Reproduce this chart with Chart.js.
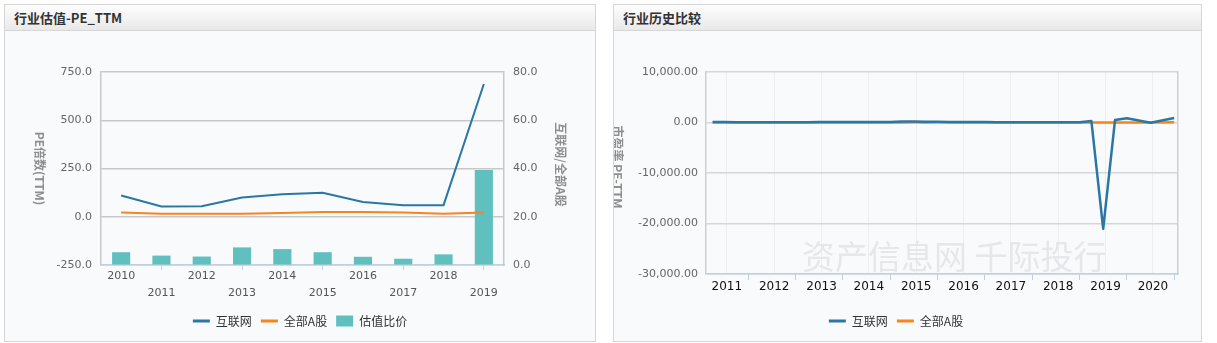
<!DOCTYPE html>
<html>
<head>
<meta charset="utf-8">
<script src="https://cdn.jsdelivr.net/npm/chart.js@4.4.1/dist/chart.umd.min.js"></script>
<style>
body { margin:0; background:#fff; font-family:"Noto Sans CJK SC", sans-serif; }
.panel { position:absolute; top:4px; height:338px; border:1px solid #d6d6d6; background:#f9fafc; box-sizing:border-box; }
.panel .hd { height:25px; line-height:25px; padding-left:9px; font-size:13px; font-weight:bold; color:#333;
  background:linear-gradient(#fdfdfd,#e9e9e9); border-bottom:1px solid #d6d6d6; }
.panel canvas { display:block; }
#p1 { left:4px; width:592px; }
#p2 { left:613px; width:589px; }
</style>
</head>
<body>
<div class="panel" id="p1">
  <div class="hd">行业估值-PE_TTM</div>
  <canvas id="peChart" width="590" height="310"></canvas>
</div>
<div class="panel" id="p2">
  <div class="hd">行业历史比较</div>
  <canvas id="histChart" width="587" height="310"></canvas>
</div>
<script>
// left chart: annual PE
const years = ['2010','2011','2012','2013','2014','2015','2016','2017','2018','2019'];
const peInternet = [110, 53, 55, 100, 117, 124, 76, 60, 60, 688];
const peAllA = [22, 15, 16, 16, 19, 25, 24, 22, 16, 22];
const valRatio = [5.3, 3.9, 3.5, 7.3, 6.6, 5.3, 3.4, 2.6, 4.4, 39.4];
const peTicks = [-250, 0, 250, 500, 750];
const ratioTicks = [0, 20, 40, 60, 80];

// right chart: quarterly history
const histYears = ['2011','2012','2013','2014','2015','2016','2017','2018','2019','2020'];
const histDates = [2011.25,2011.5,2011.75,2012,2012.25,2012.5,2012.75,2013,2013.25,2013.5,2013.75,2014,
  2014.25,2014.5,2014.75,2015,2015.25,2015.5,2015.75,2016,2016.25,2016.5,2016.75,2017,
  2017.25,2017.5,2017.75,2018,2018.25,2018.5,2018.75,2019,2019.25,2019.5,2019.75,2020,2020.5,2021];
const histInternet = [95,82,64,53, 58,60,52,55, 72,88,104,100, 108,121,110,117,
  175,210,140,124, 110,98,88,76, 72,68,63,60, 62,57,50,60, 300,-21050,500,850,-50,900];
const histAllA = [18,17,16,15, 15,15,14,16, 16,15,14,16, 15,16,17,19,
  22,27,21,25, 22,23,24,24, 23,22,22,22, 18,17,15,16, 19,19,18,22,24,26];
const histTicks = [-30000, -20000, -10000, 0, 10000];

const BLUE = '#2a77a3', ORANGE = '#f7841f', TEAL = '#60bfbf';
const tickFont = {family:'"DejaVu Sans"', size:11};

Chart.defaults.font.family = '"Noto Sans CJK SC", sans-serif';

// vertical axis titles, read top to bottom
const axisTitles = {
  id: 'axisTitles',
  afterDraw(chart, args, opts) {
    const ctx = chart.ctx, area = chart.chartArea;
    (opts.items || []).forEach(t => {
      ctx.save();
      const x = t.side === 'left' ? area.left - t.dx : area.right + t.dx;
      ctx.translate(x, (area.top + area.bottom) / 2 + (t.dy || 0));
      ctx.rotate(Math.PI / 2);
      ctx.font = 'bold 12px "Noto Sans CJK SC"';
      ctx.fillStyle = '#8e8e8e';
      ctx.textAlign = 'center';
      ctx.textBaseline = 'middle';
      ctx.fillText(t.text, 0, 0);
      ctx.restore();
    });
  }
};

const watermark = {
  id: 'watermark',
  beforeDatasetsDraw(chart, args, opts) {
    if (!opts.text) return;
    const ctx = chart.ctx, area = chart.chartArea;
    ctx.save();
    ctx.font = '33px "Noto Sans CJK SC"';
    ctx.fillStyle = '#e5e8eb';
    ctx.textBaseline = 'alphabetic';
    ctx.fillText(opts.text, area.left + 96, area.bottom - 5);
    ctx.restore();
  }
};

function legendLabels(chart) {
  return Chart.defaults.plugins.legend.labels.generateLabels(chart).map(item => {
    item.lineWidth = item.pointStyle === 'line' ? 3 : 0;
    return item;
  });
}

const legendOpts = {
  position: 'bottom',
  labels: {
    usePointStyle: true, pointStyleWidth: 17, boxHeight: 11, padding: 9,
    color: '#333', font: {size: 12}, generateLabels: legendLabels
  }
};

new Chart(document.getElementById('peChart'), {
  type: 'bar',
  data: {
    labels: years.map((y, i) => i % 2 ? ['', y] : [y]),
    datasets: [
      {type:'line', label:'互联网', data:peInternet, yAxisID:'y', borderColor:BLUE, backgroundColor:BLUE,
        borderWidth:2, pointRadius:0, pointStyle:'line', tension:0},
      {type:'line', label:'全部A股', data:peAllA, yAxisID:'y', borderColor:ORANGE, backgroundColor:ORANGE,
        borderWidth:2, pointRadius:0, pointStyle:'line', tension:0},
      {type:'bar', label:'估值比价', data:valRatio, yAxisID:'y1', backgroundColor:TEAL, borderWidth:0,
        barPercentage:0.45, categoryPercentage:1, pointStyle:'rect'}
    ]
  },
  options: {
    responsive: false,
    animation: false,
    layout: {padding: {top:41, left:0, right:0, bottom:4}},
    plugins: {
      legend: legendOpts,
      tooltip: {enabled:false},
      axisTitles: {items: [
        {side:'left', dx:61, text:'PE倍数(TTM)'},
        {side:'right', dx:57, dy:-4, text:'互联网/全部A股'}
      ]}
    },
    scales: {
      x: {
        grid: {drawOnChartArea:false, offset:false, tickLength:5, lineWidth:1,
          tickColor: c => c.index % 2 ? '#c0d0e0' : 'rgba(0,0,0,0)'},
        border: {color:'#c0d0e0', width:1.5},
        ticks: {color:'#555', font:{family:'"DejaVu Sans"', size:11, lineHeight:1.5}, padding:-2,
          autoSkip:false, maxRotation:0},
        afterFit: s => { s.height = 41; }
      },
      y: {
        position: 'left', min: peTicks[0], max: peTicks[peTicks.length - 1],
        afterBuildTicks: s => { s.ticks = peTicks.map(v => ({value: v})); },
        grid: {color:'#c8c8c8', lineWidth:1.5, drawTicks:false},
        border: {color:'#c8c8c8', width:1.5},
        ticks: {color:'#666', font:tickFont, padding:9, callback: v => v.toFixed(1)},
        afterFit: s => { s.width = 96; }
      },
      y1: {
        position: 'right', min: ratioTicks[0], max: ratioTicks[ratioTicks.length - 1],
        afterBuildTicks: s => { s.ticks = ratioTicks.map(v => ({value: v})); },
        grid: {drawOnChartArea:false, drawTicks:false},
        border: {color:'#c8c8c8', width:1.5},
        ticks: {color:'#666', font:tickFont, padding:9, callback: v => v.toFixed(1)},
        afterFit: s => { s.width = 91; }
      }
    }
  },
  plugins: [axisTitles]
});

new Chart(document.getElementById('histChart'), {
  type: 'line',
  data: {
    datasets: [
      {label:'互联网', data: histDates.map((d, i) => ({x: d, y: histInternet[i]})),
        borderColor:BLUE, backgroundColor:BLUE, borderWidth:2.5, borderJoinStyle:'round',
        pointRadius:0, pointStyle:'line', tension:0},
      {label:'全部A股', data: histDates.map((d, i) => ({x: d, y: histAllA[i]})),
        borderColor:ORANGE, backgroundColor:ORANGE, borderWidth:2.5, borderJoinStyle:'round',
        pointRadius:0, pointStyle:'line', tension:0}
    ]
  },
  options: {
    responsive: false,
    animation: false,
    layout: {padding: {top:41, left:0, right:23, bottom:4}},
    plugins: {
      legend: legendOpts,
      tooltip: {enabled:false},
      watermark: {text:'资产信息网 千际投行'},
      axisTitles: {items: [{side:'left', dx:88, dy:-6, text:'市盈率 PE-TTM'}]}
    },
    scales: {
      x: {
        type: 'linear', min: 2011.11, max: 2021.08,
        afterBuildTicks: s => {
          const t = [];
          histYears.forEach(y => { t.push({value: +y + 0.55}); t.push({value: +y + 1}); });
          s.ticks = t;
        },
        grid: {lineWidth:1, tickLength:6,
          color: c => c.index % 2 ? 'rgba(0,0,0,0)' : '#eceef2',
          tickColor: c => c.index % 2 ? '#c0d0e0' : 'rgba(0,0,0,0)'},
        border: {color:'#c0d0e0', width:1.5},
        ticks: {color:'#111', font:{family:'"DejaVu Sans"', size:12}, padding:0, autoSkip:false, maxRotation:0,
          callback: (v, i) => i % 2 ? '' : histYears[i / 2]},
        afterFit: s => { s.height = 32; }
      },
      y: {
        min: histTicks[0], max: histTicks[histTicks.length - 1],
        afterBuildTicks: s => { s.ticks = histTicks.map(v => ({value: v})); },
        grid: {color:'#d6d6d6', lineWidth:1.5, drawTicks:false},
        border: {color:'#d0d0d0', width:1.5},
        ticks: {color:'#666', font:tickFont, padding:8,
          callback: v => v.toLocaleString('en-US', {minimumFractionDigits:2, maximumFractionDigits:2})},
        afterFit: s => { s.width = 92; }
      },
      yr: {
        position: 'right', min: histTicks[0], max: histTicks[histTicks.length - 1],
        ticks: {display:false},
        grid: {drawOnChartArea:false, drawTicks:false},
        border: {color:'#d0d0d0', width:1.5},
        afterFit: s => { s.width = 0; }
      }
    }
  },
  plugins: [axisTitles, watermark]
});
</script>
</body>
</html>
